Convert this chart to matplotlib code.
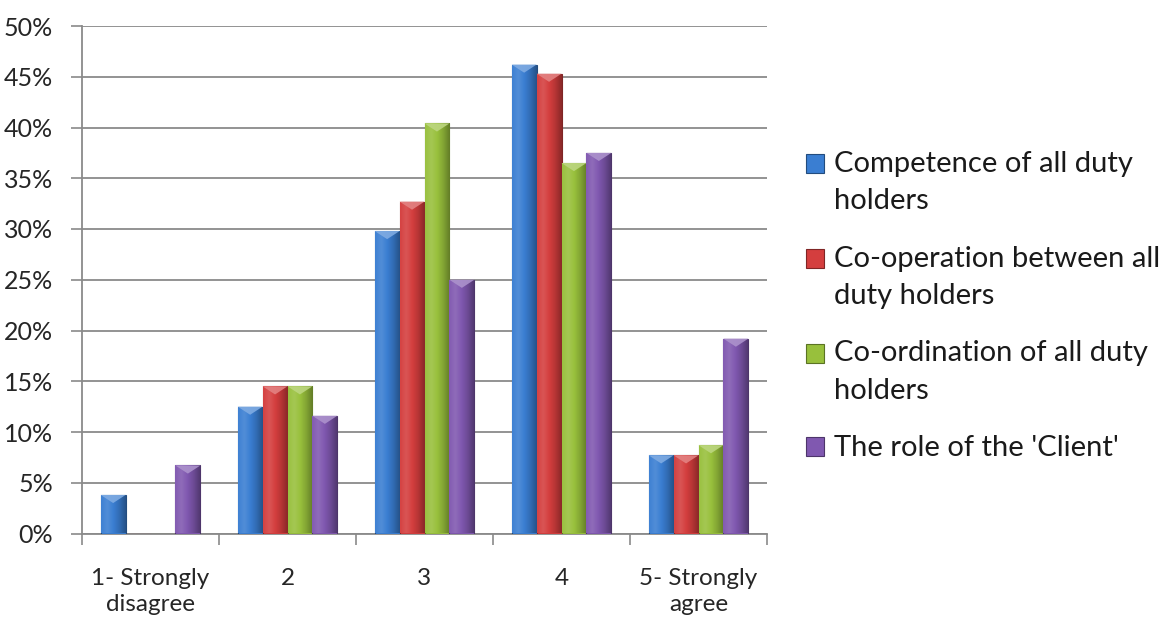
import matplotlib
matplotlib.use("Agg")
import matplotlib.pyplot as plt
import numpy as np
from matplotlib.ticker import PercentFormatter, FixedLocator
from matplotlib.patches import Polygon, Rectangle
from matplotlib.legend_handler import HandlerPatch
from matplotlib.colors import LinearSegmentedColormap, to_rgb

categories = ["1- Strongly\ndisagree", "2", "3", "4", "5- Strongly\nagree"]
series_names = ["Competence of all duty\nholders",
                "Co-operation between all\nduty holders",
                "Co-ordination of all duty\nholders",
                "The role of the 'Client'"]
competence = [0.038, 0.125, 0.298, 0.462, 0.077]
cooperation = [0.0, 0.145, 0.327, 0.453, 0.077]
coordination = [0.0, 0.145, 0.404, 0.365, 0.087]
client = [0.067, 0.116, 0.250, 0.375, 0.192]
series_values = [competence, cooperation, coordination, client]
colors = ["#3a7ed2", "#d43e3e", "#98c03c", "#8058b0"]
y_ticks = [0, 0.05, 0.10, 0.15, 0.20, 0.25, 0.30, 0.35, 0.40, 0.45, 0.50]

plt.rcParams['font.family'] = ['Lato', 'DejaVu Sans']

fig = plt.figure(figsize=(11.66, 6.18), dpi=100)
ax = fig.add_axes([82/1166, 1-533.5/618, (767-82)/1166, (533.5-26)/618])

n = len(series_values)
bw = 1/5.5
x = np.arange(len(categories))
grid_c = "#8a8a8a"
text_c = "#262626"

def shade(c, f):
    r = np.array(to_rgb(c))
    if f >= 0:
        return tuple(r + (1 - r) * f)
    return tuple(r * (1 + f))

proxies = []
for i, (vals, c, name) in enumerate(zip(series_values, colors, series_names)):
    offs = x + (i - (n - 1) / 2) * bw
    bars = ax.bar(offs, vals, width=bw, color=c, edgecolor=shade(c, -0.4),
                  linewidth=0.8, zorder=3)
    cmap = LinearSegmentedColormap.from_list(
        "g", [shade(c, 0.02), shade(c, 0.12), c, shade(c, -0.15), shade(c, -0.35)])
    grad = np.linspace(0, 1, 64).reshape(1, -1)
    for b in bars:
        h = b.get_height()
        if h <= 0:
            continue
        x0 = b.get_x(); w = b.get_width()
        im = ax.imshow(grad, cmap=cmap, aspect='auto',
                       extent=(x0, x0 + w, 0, h), zorder=3.5,
                       interpolation='bicubic')
        im.set_clip_path(b)
        tri_h = min(0.008, h * 0.5)
        tri = Polygon([(x0, h), (x0 + w, h), (x0 + w / 2, h - tri_h)],
                      closed=True, facecolor=shade(c, 0.35), edgecolor='none',
                      zorder=4, alpha=0.9)
        ax.add_patch(tri)
    proxies.append(Rectangle((0, 0), 1, 1, facecolor=c,
                             edgecolor=shade(c, -0.4), linewidth=0.8, label=name))

ax.set_xlim(-0.5, len(categories) - 0.5)
ax.set_ylim(0, 0.5)
ax.set_yticks(y_ticks)
ax.yaxis.set_major_formatter(PercentFormatter(1.0, decimals=0))
ax.set_xticks(x)
ax.set_xticklabels(categories)
ax.xaxis.set_minor_locator(FixedLocator(np.arange(len(categories) + 1) - 0.5))
ax.tick_params(axis='x', which='major', length=0, pad=25, labelsize=17.5,
               labelcolor=text_c)
ax.tick_params(axis='x', which='minor', length=8, width=1.2, color=grid_c)
ax.tick_params(axis='y', length=8, width=1.2, color=grid_c, pad=13,
               labelsize=18, labelcolor=text_c)
ax.grid(axis='y', color=grid_c, linewidth=1.3, zorder=0)
ax.set_axisbelow(True)
for s in ['top', 'right']:
    ax.spines[s].set_visible(False)
for s in ['left', 'bottom']:
    ax.spines[s].set_color(grid_c)
    ax.spines[s].set_linewidth(1.3)
for lbl in ax.get_xticklabels():
    lbl.set_linespacing(1.3)

leg_fs = 21
line_step = 38 * 72 / 100  # points between lines of a legend entry

def top_aligned(legend, orig_handle, xdescent, ydescent, width, height, fontsize):
    nlines = orig_handle.get_label().count("\n") + 1
    shift = (nlines - 1) * line_step / 2
    return Rectangle((-xdescent, -ydescent + shift), width, height)

leg = fig.legend(handles=proxies, loc='center left',
                 bbox_to_anchor=(806/1166, 1 - 306/618),
                 frameon=False, fontsize=leg_fs, handlelength=0.62,
                 handleheight=0.62, handletextpad=0.35, labelspacing=1.07,
                 borderpad=0, borderaxespad=0,
                 handler_map={Rectangle: HandlerPatch(patch_func=top_aligned)})
for t in leg.get_texts():
    t.set_color("#1a1a1a")
    t.set_linespacing(1.56)

fig.savefig("out.png", dpi=100)
